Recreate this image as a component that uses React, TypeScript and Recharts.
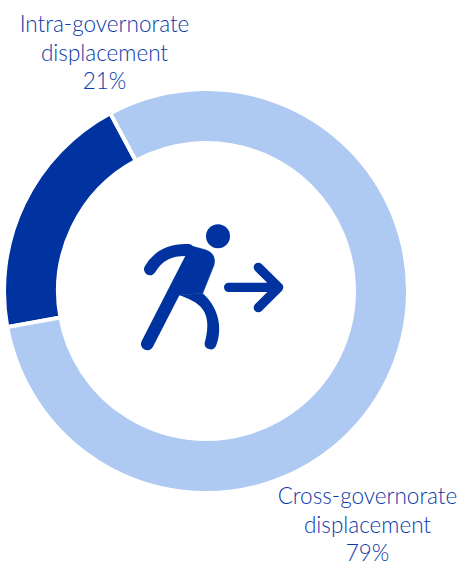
import React from "react";
import { PieChart, Pie, Cell } from "recharts";

const categories = ["Intra-governorate displacement", "Cross-governorate displacement"];
// Arc sizes as measured on the picture: the dark arc spans 72 degrees, though its printed label says 21%.
const values = [20, 80];
const colors = ["#00339F", "#AFCAF2"];
const labelLines = [
  ["Intra-governorate", "displacement", "21%"],
  ["Cross-governorate", "displacement", "79%"],
];
const labelAnchors = [
  { x: 104.5, y: 32 },
  { x: 367.5, y: 504 },
];
const tableData = categories.map((name, i) => ({ name, value: values[i] }));

const WIDTH = 462;
const HEIGHT = 573;

const renderLabel = (props: any) => {
  const i = props.index as number;
  const a = labelAnchors[i];
  return (
    <text key={i} x={a.x} y={a.y} textAnchor="middle" fill="#0A39A8" fontFamily="Lato, sans-serif" fontWeight={300} fontSize={22.5}>
      {labelLines[i].map((t, k) => (
        <tspan key={k} x={a.x} y={a.y + k * 28.5}>{t}</tspan>
      ))}
    </text>
  );
};

const Runner = () => (
  <svg
    width={WIDTH}
    height={HEIGHT}
    style={{ position: "absolute", left: 0, top: 0, pointerEvents: "none" }}
  >
    <g transform="translate(120,210) scale(0.3333)" fill="#00339F" stroke="#00339F" strokeLinecap="round" strokeLinejoin="round">
      <circle cx={294} cy={79} r={36} stroke="none" />
      <path d="M90,178 C115,135 150,118 205,120" fill="none" strokeWidth={36} />
      <path d="M82,402 L212,148" fill="none" strokeWidth={38} />
      <path d="M195,103 L258,120 Q290,132 282,165 L248,250 L178,255 L155,235 L205,135 Z" strokeWidth={2} />
      <path d="M178,255 C215,270 262,285 262,345 C262,365 258,385 254,398 A18,18 0 0 0 288,408 C305,370 305,300 248,250 Z" stroke="none" />
      <path d="M326,232 L476,232 M415,172 L476,232 L415,293" fill="none" strokeWidth={28} />
    </g>
  </svg>
);

export default function App() {
  return (
    <div style={{ position: "absolute", left: 0, top: 0, width: WIDTH, height: HEIGHT }}>
      <PieChart width={WIDTH} height={HEIGHT} margin={{ top: 0, right: 0, bottom: 0, left: 0 }}>
        <Pie
          data={tableData}
          dataKey="value"
          nameKey="name"
          cx={206}
          cy={291}
          innerRadius={148}
          outerRadius={202}
          startAngle={190.3}
          endAngle={-169.7}
          stroke="#FFFFFF"
          strokeWidth={4}
          label={renderLabel}
          labelLine={false}
          isAnimationActive={false}
        >
          {tableData.map((d, i) => (
            <Cell key={d.name} fill={colors[i]} />
          ))}
        </Pie>
      </PieChart>
      <Runner />
    </div>
  );
}
